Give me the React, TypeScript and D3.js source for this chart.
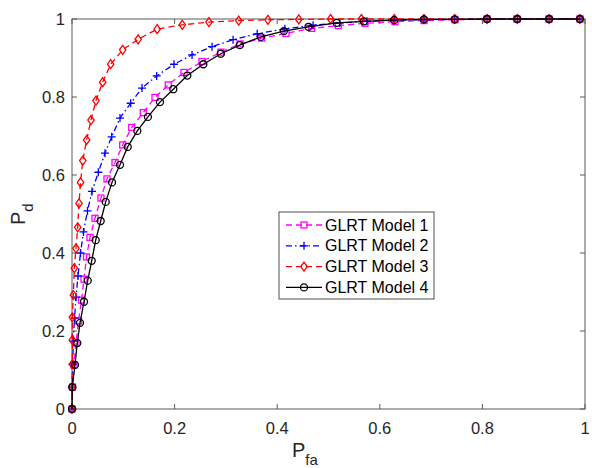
import React from 'react';
import * as d3 from 'd3';

const width = 592;
const height = 468;
const margin = { top: 19, right: 7, bottom: 59, left: 72 };

// GLRT Model 1 (magenta, squares)
const pfaModel1 = [0, 0.001, 0.0039, 0.0078, 0.0127, 0.0185, 0.0234, 0.0283, 0.0351, 0.0448, 0.0565, 0.0682, 0.0838, 0.0988, 0.1164, 0.139, 0.1618, 0.1877, 0.2183, 0.2534, 0.2904, 0.3275, 0.3698, 0.4172, 0.4672, 0.5191, 0.5712, 0.6296, 0.6862, 0.7466, 0.809, 0.8674, 0.9298, 0.9903];
const pdModel1 = [0, 0.056, 0.113, 0.169, 0.226, 0.279, 0.333, 0.39, 0.44, 0.489, 0.541, 0.59, 0.632, 0.677, 0.722, 0.76, 0.799, 0.831, 0.863, 0.891, 0.915, 0.936, 0.951, 0.963, 0.976, 0.983, 0.989, 0.993, 0.996, 0.998, 1, 1, 1, 1];

// GLRT Model 2 (blue, plus)
const pfaModel2 = [0, 0.0006, 0.0014, 0.0025, 0.0049, 0.0078, 0.0117, 0.0166, 0.0224, 0.0302, 0.039, 0.0513, 0.0643, 0.0774, 0.0936, 0.1144, 0.1365, 0.1651, 0.1988, 0.234, 0.273, 0.314, 0.361, 0.415, 0.47, 0.522, 0.575, 0.628, 0.686, 0.746, 0.809, 0.868, 0.93, 0.99];
const pdModel2 = [0, 0.056, 0.115, 0.174, 0.233, 0.287, 0.341, 0.4, 0.454, 0.508, 0.558, 0.607, 0.656, 0.698, 0.746, 0.784, 0.823, 0.854, 0.884, 0.908, 0.929, 0.947, 0.962, 0.975, 0.984, 0.99, 0.994, 0.997, 0.998, 0.999, 1, 1, 1, 1];

// GLRT Model 3 (red, diamonds)
const pfaModel3 = [0, 0, 0.0006, 0.0006, 0.0006, 0.0026, 0.0045, 0.0078, 0.0111, 0.0136, 0.0166, 0.021, 0.0285, 0.037, 0.0468, 0.0598, 0.0754, 0.0988, 0.129, 0.166, 0.215, 0.267, 0.325, 0.382, 0.442, 0.504, 0.564, 0.628, 0.686, 0.746, 0.809, 0.868, 0.93, 0.99];
const pdModel3 = [0, 0.056, 0.115, 0.177, 0.235, 0.292, 0.361, 0.412, 0.466, 0.527, 0.581, 0.637, 0.69, 0.741, 0.791, 0.838, 0.884, 0.921, 0.948, 0.974, 0.985, 0.992, 0.996, 0.998, 0.999, 1, 1, 1, 1, 1, 1, 1, 1, 1];

// GLRT Model 4 (black, circles)
const pfaModel4 = [0, 0.0006, 0.0058, 0.0103, 0.0156, 0.0234, 0.0306, 0.0384, 0.0462, 0.0559, 0.0657, 0.078, 0.0936, 0.1086, 0.1273, 0.148, 0.1715, 0.1975, 0.2248, 0.256, 0.29, 0.327, 0.368, 0.413, 0.461, 0.516, 0.569, 0.628, 0.686, 0.746, 0.809, 0.868, 0.93, 0.99];
const pdModel4 = [0, 0.056, 0.113, 0.169, 0.221, 0.275, 0.329, 0.38, 0.433, 0.482, 0.531, 0.581, 0.626, 0.672, 0.713, 0.749, 0.787, 0.82, 0.855, 0.884, 0.911, 0.933, 0.954, 0.969, 0.98, 0.99, 0.994, 0.997, 0.999, 0.999, 1, 1, 1, 1];

const seriesNames = ['GLRT Model 1', 'GLRT Model 2', 'GLRT Model 3', 'GLRT Model 4'];
const xTicks = [0, 0.2, 0.4, 0.6, 0.8, 1];
const yTicks = [0, 0.2, 0.4, 0.6, 0.8, 1];

const seriesData = [
	{ x: pfaModel1, y: pdModel1 },
	{ x: pfaModel2, y: pdModel2 },
	{ x: pfaModel3, y: pdModel3 },
	{ x: pfaModel4, y: pdModel4 }
];

const styles = [
	{ color: '#ff00ff', dash: '6,4', marker: 'square' },
	{ color: '#0000ff', dash: '6,3,1.5,3', marker: 'plus' },
	{ color: '#ff0000', dash: '6,4', marker: 'diamond' },
	{ color: '#000000', dash: null, marker: 'circle' }
];

const axisColor = '#5a5a5a';
const textColor = '#262626';
const font = '"Liberation Sans", Arial, Helvetica, sans-serif';

function Marker({ type, x, y, color }) {
	const sw = 1.3;
	if (type === 'square') {
		return <rect x={x - 3} y={y - 3} width={6} height={6} fill="none" stroke={color} strokeWidth={sw} />;
	}
	if (type === 'plus') {
		return (
			<path d={`M${x - 4},${y}H${x + 4}M${x},${y - 4}V${y + 4}`} stroke={color} strokeWidth={sw} fill="none" />
		);
	}
	if (type === 'diamond') {
		return (
			<path d={`M${x},${y - 4.5}L${x + 3.2},${y}L${x},${y + 4.5}L${x - 3.2},${y}Z`} fill="none" stroke={color} strokeWidth={sw} />
		);
	}
	return <circle cx={x} cy={y} r={3.5} fill="none" stroke={color} strokeWidth={sw} />;
}

export default function App() {
	const xScale = d3.scaleLinear().domain([0, 1]).range([margin.left, width - margin.right]);
	const yScale = d3.scaleLinear().domain([0, 1]).range([height - margin.bottom, margin.top]);
	const x0 = xScale(0);
	const x1 = xScale(1);
	const y0 = yScale(0);
	const y1 = yScale(1);

	const line = d3
		.line<number[]>()
		.x(d => xScale(d[0]))
		.y(d => yScale(d[1]));

	const legend = { x: 279, y: 212, w: 155, h: 87 };

	return (
		<svg
			width={width}
			height={height}
			style={{ position: 'absolute', left: 0, top: 0, background: '#fff' }}
			fontFamily={font}
		>
			<rect x={0} y={0} width={width} height={height} fill="#fff" />

			{/* axes box and ticks */}
			<rect x={x0} y={y1} width={x1 - x0} height={y0 - y1} fill="none" stroke={axisColor} strokeWidth={1} />
			{xTicks.map(t => (
				<g key={'x' + t}>
					<line x1={xScale(t)} x2={xScale(t)} y1={y0} y2={y0 - 5} stroke={axisColor} strokeWidth={1} />
					<line x1={xScale(t)} x2={xScale(t)} y1={y1} y2={y1 + 5} stroke={axisColor} strokeWidth={1} />
					<text x={xScale(t)} y={434} textAnchor="middle" fontSize={16.5} fill={textColor}>
						{String(t)}
					</text>
				</g>
			))}
			{yTicks.map(t => (
				<g key={'y' + t}>
					<line x1={x0} x2={x0 + 5} y1={yScale(t)} y2={yScale(t)} stroke={axisColor} strokeWidth={1} />
					<line x1={x1} x2={x1 - 5} y1={yScale(t)} y2={yScale(t)} stroke={axisColor} strokeWidth={1} />
					<text x={65} y={yScale(t) + 6} textAnchor="end" fontSize={16.5} fill={textColor}>
						{String(t)}
					</text>
				</g>
			))}

			{/* axis labels */}
			<text x={292} y={457} fontSize={20} fill={textColor}>
				P
				<tspan fontSize={15} dy={8}>
					fa
				</tspan>
			</text>
			<text transform="translate(25,225) rotate(-90)" fontSize={20} fill={textColor}>
				P
				<tspan fontSize={15} dy={8}>
					d
				</tspan>
			</text>

			{/* series */}
			{seriesData.map((s, i) => {
				const pts = s.x.map((v, j) => [v, s.y[j]]);
				const st = styles[i];
				return (
					<g key={seriesNames[i]}>
						<path
							d={line(pts) || ''}
							fill="none"
							stroke={st.color}
							strokeWidth={1.3}
							strokeDasharray={st.dash || undefined}
						/>
						{pts.map((p, j) => (
							<Marker key={j} type={st.marker} x={xScale(p[0])} y={yScale(p[1])} color={st.color} />
						))}
					</g>
				);
			})}

			{/* legend */}
			<rect x={legend.x} y={legend.y} width={legend.w} height={legend.h} fill="#fff" stroke={textColor} strokeWidth={0.8} />
			{seriesNames.map((name, i) => {
				const st = styles[i];
				const ly = 225 + i * 20.8;
				return (
					<g key={'leg' + name}>
						<line
							x1={286}
							x2={322}
							y1={ly}
							y2={ly}
							stroke={st.color}
							strokeWidth={1.3}
							strokeDasharray={st.dash || undefined}
						/>
						<Marker type={st.marker} x={304} y={ly} color={st.color} />
						<text x={325} y={ly + 5.5} fontSize={16} fill="#000">
							{name}
						</text>
					</g>
				);
			})}
		</svg>
	);
}
